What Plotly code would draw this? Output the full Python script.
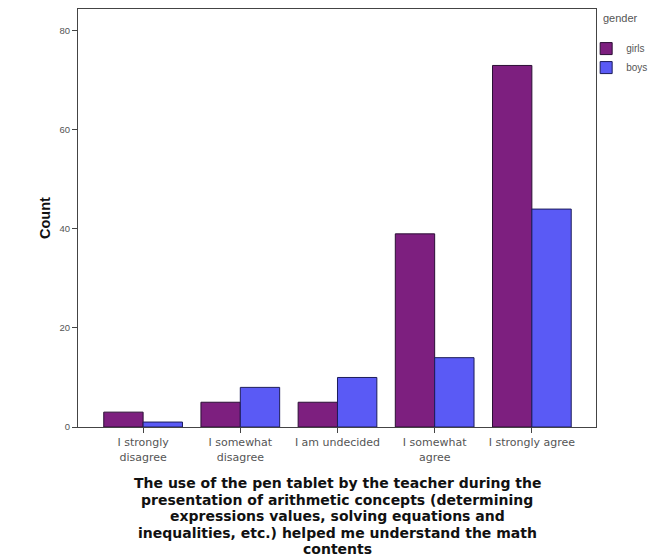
import plotly.graph_objects as go

categories = ["I strongly<br>disagree", "I somewhat<br>disagree", "I am undecided",
              "I somewhat<br>agree", "I strongly agree"]
girls = [3, 5, 5, 39, 73]
boys = [1, 8, 10, 14, 44]
series_names = ["girls", "boys"]
legend_title = "gender"
y_ticks = [0, 20, 40, 60, 80]
x_title_lines = [
    "The use of the pen tablet by the teacher during the",
    "presentation of arithmetic concepts (determining",
    "expressions values, solving equations and",
    "inequalities, etc.) helped me understand the math",
    "contents",
]

xs = list(range(len(categories)))

fig = go.Figure()
fig.add_trace(go.Bar(x=xs, y=girls, name=series_names[0],
                     marker=dict(color="#7d1f7f", line=dict(color="#2b0f35", width=1))))
fig.add_trace(go.Bar(x=xs, y=boys, name=series_names[1],
                     marker=dict(color="#5a5af5", line=dict(color="#1c1c5a", width=1))))

annotations = [
    dict(text="<b>Count</b>", x=0, xref="paper", y=0.5, yref="paper",
         xshift=-43, textangle=-90, showarrow=False,
         font=dict(family="Liberation Sans, Arial, sans-serif", size=14.5, color="#111111")),
    dict(text=legend_title, x=1.0, xref="paper", y=1.0, yref="paper",
         xanchor="left", yanchor="middle", xshift=5, yshift=-9, showarrow=False,
         font=dict(family="Liberation Sans, Arial, sans-serif", size=11, color="#555555")),
]
for i, line in enumerate(x_title_lines):
    annotations.append(dict(
        text="<b>" + line + "</b>", x=0.5, xref="paper", y=0, yref="paper",
        yanchor="middle", yshift=-(56 + 16.5 * i), showarrow=False, borderpad=0,
        font=dict(family="DejaVu Sans, Verdana, sans-serif", size=14, color="#111111")))

fig.update_layout(
    width=657, height=560,
    margin=dict(l=78, r=61, t=9, b=133, autoexpand=False),
    paper_bgcolor="white", plot_bgcolor="white",
    barmode="group", bargap=0.19, bargroupgap=0,
    font=dict(family="Liberation Sans, Arial, sans-serif", size=9, color="#555555"),
    showlegend=True,
    legend=dict(
        x=0.981, xanchor="left", y=0.94, yanchor="top",
        font=dict(size=10, color="#555555"),
        itemwidth=30, tracegroupgap=0,
        bgcolor="rgba(0,0,0,0)",
    ),
    xaxis=dict(
        range=[-0.67, 4.66],
        tickmode="array", tickvals=xs, ticktext=categories,
        ticks="outside", ticklen=5, tickcolor="#444444",
        showline=True, linecolor="#444444", linewidth=1, mirror=True,
        showgrid=False, zeroline=False,
        tickfont=dict(family="DejaVu Sans, Verdana, sans-serif", size=11, color="#555555"),
    ),
    yaxis=dict(
        range=[0, 84.4],
        tickmode="array", tickvals=y_ticks,
        ticks="outside", ticklen=5, tickcolor="#444444",
        showline=True, linecolor="#444444", linewidth=1, mirror=True,
        showgrid=False, zeroline=False,
        tickfont=dict(size=9.5, color="#555555"),
    ),
    annotations=annotations,
)

fig.write_html("out.html", config={"displayModeBar": False},
               post_script="document.body.style.margin='0';document.body.style.overflow='hidden';")
